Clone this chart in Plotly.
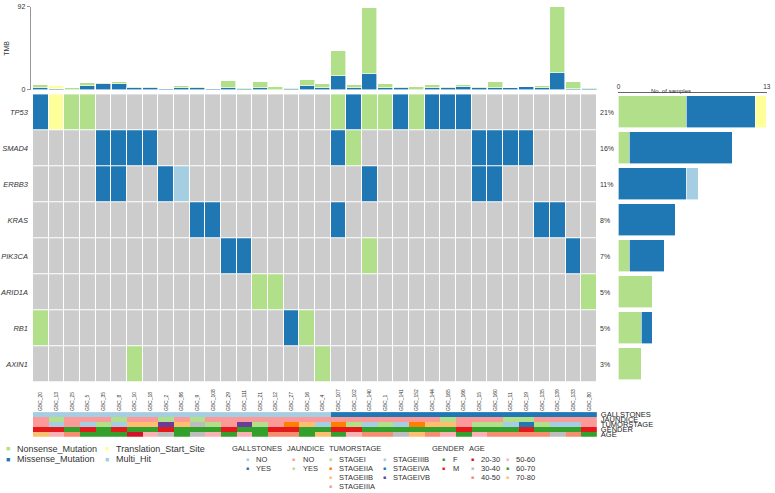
import plotly.graph_objects as go

# ---------------- data ----------------
samples = ["GBC_20", "GBC_13", "GBC_25", "GBC_5", "GBC_35", "GBC_8", "GBC_10", "GBC_18",
           "GBC_2", "GBC_86", "GBC_9", "GBC_108", "GBC_29", "GBC_111", "GBC_21", "GBC_12",
           "GBC_27", "GBC_16", "GBC_4", "GBC_107", "GBC_102", "GBC_140", "GBC_1", "GBC_141",
           "GBC_152", "GBC_144", "GBC_165", "GBC_166", "GBC_15", "GBC_160", "GBC_11", "GBC_19",
           "GBC_135", "GBC_139", "GBC_133", "GBC_80"]

genes = ["TP53", "SMAD4", "ERBB3", "KRAS", "PIK3CA", "ARID1A", "RB1", "AXIN1"]
# N = Nonsense, M = Missense, T = Translation_Start_Site, H = Multi_Hit, . = none
calls_TP53   = "MTNN" + "." * 15 + "NMNNMNMMM" + "." * 8
calls_SMAD4  = "." * 4 + "MMMM" + "." * 11 + "MN" + "." * 7 + "MMMM" + "." * 4
calls_ERBB3  = "." * 4 + "MM" + ".." + "MH" + "." * 11 + "M" + "." * 6 + "MM" + "." * 6
calls_KRAS   = "." * 10 + "MM" + "." * 7 + "M" + "." * 12 + "MM" + ".."
calls_PIK3CA = "." * 12 + "MM" + "." * 7 + "N" + "." * 12 + "M" + "."
calls_ARID1A = "." * 14 + "NN" + "." * 19 + "N"
calls_RB1    = "N" + "." * 15 + "MN" + "." * 18
calls_AXIN1  = "." * 6 + "N" + "." * 11 + "N" + "." * 17
gene_calls = [calls_TP53, calls_SMAD4, calls_ERBB3, calls_KRAS,
              calls_PIK3CA, calls_ARID1A, calls_RB1, calls_AXIN1]
n_cohort = 61

tmb_missense = [2.5, 1, 0, 4, 6, 7, 1.5, 2, 1, 2, 2, 1, 2, 1, 2, 0, 1, 4.5,
                2, 15, 2, 18, 2, 2, 0, 2, 2, 3.6, 2, 2, 2.5, 3.3, 2, 19, 1, 1]
tmb_nonsense = [3, 0, 1.5, 4, 2, 2, 2, 1, 0, 2.5, 1.3, 0, 8, 1, 7, 3.3, 1, 6.5,
                4, 28, 3, 73, 4.5, 1, 3.3, 3.5, 1.3, 2, 1.3, 7, 0, 0, 2.7, 73, 8, 1]
tmb_tss = [0, 3.5] + [0] * 34
tmb_max = 92

gallstones = ["NO"] * 19 + ["YES"] * 17
jaundice = ["NO", "YES", "NO", "NO", "NO", "YES", "NO", "NO", "YES", "NO", "YES",
            "NO", "NO", "NO", "NO", "NO", "NO", "NO", "NO", "NO", "NO", "NO", "NO",
            "NO", "NO", "NO", "YES", "NO", "NO", "NO", "YES", "YES", "NO", "NO", "NO", "NO"]
tumorstage = ["STAGEIIIA", "STAGEIIIB", "STAGEIIIA", "STAGEIIIB", "STAGEI", "STAGEIIIB",
              "STAGEIIB", "STAGEIIB", "STAGEIVB", "STAGEIIB", "NA", "STAGEI", "STAGEIIIA",
              "STAGEIVB", "STAGEI", "STAGEIIIA", "STAGEIIA", "STAGEIIB", "STAGEIIIB",
              "STAGEIIA", "STAGEI", "STAGEIIIB", "STAGEI", "STAGEIIIB", "STAGEIIA",
              "STAGEIIB", "STAGEIIB", "STAGEIIIA", "STAGEI", "STAGEI", "STAGEIIIB",
              "STAGEIVA", "STAGEI", "STAGEIIIB", "STAGEIIIB", "STAGEIIIA"]
gender = ["M", "M", "F", "M", "F", "M", "F", "F", "M", "F", "F", "F", "M", "F", "F", "M",
          "M", "F", "F", "M", "M", "F", "F", "F", "F", "F", "F", "M", "F", "F", "F", "M",
          "F", "F", "F", "M"]
age = ["70-80", "50-60", "40-50", "60-70", "60-70", "60-70", "20-30", "50-60", "30-40",
       "60-70", "30-40", "50-60", "60-70", "50-60", "60-70", "40-50", "40-50", "60-70",
       "70-80", "60-70", "50-60", "40-50", "40-50", "30-40", "70-80", "40-50", "50-60",
       "60-70", "50-60", "40-50", "40-50", "40-50", "40-50", "30-40", "40-50", "60-70"]

# ---------------- styles ----------------
mut_classes = ["Nonsense_Mutation", "Missense_Mutation", "Translation_Start_Site", "Multi_Hit"]
mut_codes = {"N": 1, "M": 2, "T": 3, "H": 4}
mut_colors = {"Nonsense_Mutation": "#b2df8a", "Missense_Mutation": "#1f78b4",
              "Translation_Start_Site": "#ffff99", "Multi_Hit": "#a6cee3"}
bg_gray = "#cccccc"

anno_names = ["GALLSTONES", "JAUNDICE", "TUMORSTAGE", "GENDER", "AGE"]
anno_colors = {
    "GALLSTONES": {"NO": "#a6cee3", "YES": "#1f78b4"},
    "JAUNDICE": {"NO": "#fb9a99", "YES": "#b2df8a"},
    "TUMORSTAGE": {"STAGEI": "#b2df8a", "STAGEIIA": "#ff7f00", "STAGEIIB": "#fdbf6f",
                   "STAGEIIIA": "#fb9a99", "STAGEIIIB": "#a6cee3", "STAGEIVA": "#1f78b4",
                   "STAGEIVB": "#6a3d9a", "NA": "#bdbdbd"},
    "GENDER": {"F": "#33a02c", "M": "#e31a1c"},
    "AGE": {"20-30": "#d3122a", "30-40": "#bdbdbd", "40-50": "#f68d6e",
            "50-60": "#fbb1b1", "60-70": "#33a02c", "70-80": "#fdbf6f"},
}
anno_values = [gallstones, jaundice, tumorstage, gender, age]

FONT = "Liberation Sans, Arial, sans-serif"
W, H = 775, 493


def px(x):
    return x / W


def py(y):
    return 1 - y / H


def discrete_scale(colors):
    n = len(colors)
    sc = []
    for i, c in enumerate(colors):
        sc.append([i / n, c])
        sc.append([(i + 1) / n, c])
    return sc


fig = go.Figure()
cols = list(range(len(samples)))

# ---- TMB bars ----
for name, vals in [("Missense_Mutation", tmb_missense), ("Nonsense_Mutation", tmb_nonsense),
                   ("Translation_Start_Site", tmb_tss)]:
    fig.add_trace(go.Bar(x=cols, y=vals, marker=dict(color=mut_colors[name],
                         line=dict(color="white", width=0.6)),
                         xaxis="x", yaxis="y", showlegend=False, hoverinfo="skip", width=0.96))

# ---- oncoplot matrix ----
z = [[mut_codes.get(ch, 0) for ch in calls] for calls in gene_calls]
mat_colors = [bg_gray] + [mut_colors[m] for m in mut_classes]
fig.add_trace(go.Heatmap(z=z, x=cols, y=list(range(len(genes))), xaxis="x2", yaxis="y2",
                         colorscale=discrete_scale(mat_colors), zmin=-0.5, zmax=4.5,
                         showscale=False, xgap=1, ygap=1, hoverinfo="skip"))

# ---- right bar chart (No. of samples) ----
letter_of = {"Nonsense_Mutation": "N", "Missense_Mutation": "M",
             "Translation_Start_Site": "T", "Multi_Hit": "H"}
for m in mut_classes:
    counts = [calls.count(letter_of[m]) for calls in gene_calls]
    fig.add_trace(go.Bar(y=list(range(len(genes))), x=counts, orientation="h",
                         marker=dict(color=mut_colors[m], line=dict(color="white", width=0.6)),
                         xaxis="x3", yaxis="y3", showlegend=False, hoverinfo="skip", width=0.9))

# ---- annotation tracks ----
palette = []
for nm in anno_names:
    for c in anno_colors[nm].values():
        if c not in palette:
            palette.append(c)
za = [[palette.index(anno_colors[nm][v]) for v in vals] for nm, vals in zip(anno_names, anno_values)]
fig.add_trace(go.Heatmap(z=za, x=cols, y=list(range(len(anno_names))), xaxis="x4", yaxis="y4",
                         colorscale=discrete_scale(palette), zmin=-0.5, zmax=len(palette) - 0.5,
                         showscale=False, hoverinfo="skip"))

xdom = [px(28.3), px(598.8)]
ann = []

# percent labels
for i, calls in enumerate(gene_calls):
    n = sum(1 for ch in calls if ch != ".")
    ann.append(dict(x=px(600), y=i, xref="paper", yref="y2", text=f"{round(n / n_cohort * 100)}%",
                    showarrow=False, xanchor="left", font=dict(size=7, color="#333")))

ann.append(dict(x=px(696), y=py(83.5), xref="paper", yref="paper", text="No. of samples",
                showarrow=False, font=dict(size=6, color="#333")))

# ---- bottom legends ----
def legend_item(x, y, color, label, size=9, sq=7):
    ann.append(dict(x=px(x), y=py(y), xref="paper", yref="paper", text="■", showarrow=False,
                    xanchor="center", yanchor="middle", font=dict(size=sq, color=color)))
    ann.append(dict(x=px(x + 7), y=py(y), xref="paper", yref="paper", text=label, showarrow=False,
                    xanchor="left", yanchor="middle", font=dict(size=size, color="#333")))

legend_item(3, 451, mut_colors["Nonsense_Mutation"], "Nonsense_Mutation")
legend_item(3, 462, mut_colors["Missense_Mutation"], "Missense_Mutation")
legend_item(103, 451, mut_colors["Translation_Start_Site"], "Translation_Start_Site")
legend_item(103, 462, mut_colors["Multi_Hit"], "Multi_Hit")

headers = [("GALLSTONES", 228), ("JAUNDICE", 283), ("TUMORSTAGE", 326), ("GENDER", 430), ("AGE", 467)]
for t, x in headers:
    ann.append(dict(x=px(x), y=py(450.5), xref="paper", yref="paper", text=t, showarrow=False,
                    xanchor="left", yanchor="middle", font=dict(size=7.5, color="#333")))

group_cols = {"GALLSTONES": [245], "JAUNDICE": [292], "TUMORSTAGE": [329, 384],
              "GENDER": [444], "AGE": [473, 508]}
group_rows = {"GALLSTONES": 2, "JAUNDICE": 2, "TUMORSTAGE": 4, "GENDER": 2, "AGE": 3}
for nm in anno_names:
    items = [(k, c) for k, c in anno_colors[nm].items() if k != "NA"]
    for j, (k, c) in enumerate(items):
        col = j // group_rows[nm]
        row = j % group_rows[nm]
        legend_item(group_cols[nm][col], 462 + row * 9, c, k, size=7.5, sq=5)

fig.update_layout(
    width=W, height=H, margin=dict(l=0, r=0, t=0, b=0),
    paper_bgcolor="white", plot_bgcolor="white",
    barmode="stack", bargap=0.0,
    font=dict(family=FONT, color="#333"),
    annotations=ann,
    xaxis=dict(domain=xdom, range=[-0.5, 35.5], visible=False, fixedrange=True),
    yaxis=dict(domain=[py(87), py(3)], range=[0, tmb_max], tickvals=[0, tmb_max],
               showgrid=False, zeroline=False, showline=True, linecolor="#999", linewidth=1,
               ticks="outside", ticklen=3, tickcolor="#999", tickfont=dict(size=7),
               title=dict(text="TMB", font=dict(size=7), standoff=6), anchor="free",
               position=px(25)),
    xaxis2=dict(domain=xdom, range=[-0.5, 35.5], visible=False, anchor="y2"),
    yaxis2=dict(domain=[py(383.5), py(91.5)], range=[7.5, -0.5], tickvals=list(range(len(genes))),
                ticktext=genes, showgrid=False, zeroline=False, ticks="", ticklabelstandoff=4,
                tickfont=dict(size=7.5, style="italic", color="#333"), anchor="x2"),
    xaxis3=dict(domain=[px(620.7), px(770.7)], range=[0, 13], tickvals=[0, 13], side="top",
                showgrid=False, zeroline=False, showline=True, linecolor="#666", linewidth=1,
                ticks="inside", ticklen=3, tickcolor="#666", tickfont=dict(size=6.5),
                anchor="free", position=py(89)),
    yaxis3=dict(domain=[py(383.5), py(91.5)], range=[7.5, -0.5], visible=False, anchor="x3"),
    xaxis4=dict(domain=xdom, range=[-0.5, 35.5], tickvals=cols, ticktext=samples, side="top",
                tickangle=-90, tickfont=dict(size=5, color="#333"), showgrid=False,
                zeroline=False, ticks="", anchor="y4"),
    yaxis4=dict(domain=[py(439), py(414)], range=[4.5, -0.5], tickvals=list(range(5)),
                ticktext=anno_names, side="right", showgrid=False, zeroline=False, ticks="",
                ticklabelstandoff=3, tickfont=dict(size=7.5, color="#222"), anchor="x4"),
)

fig.write_html("out.html", config={"displayModeBar": False},
               post_script="document.body.style.margin='0';document.body.style.overflow='hidden';")
